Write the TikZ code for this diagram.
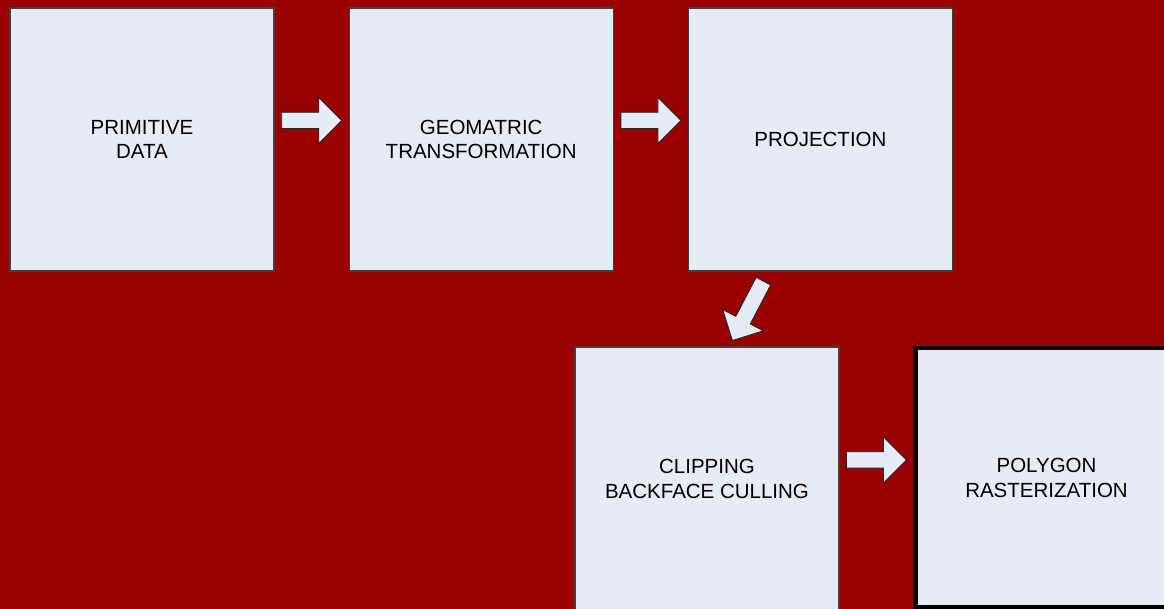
\documentclass[tikz,border=0pt]{standalone}
\usepackage{fontspec}
\setmainfont{Liberation Sans}
\usepackage{tikz}
\usetikzlibrary{positioning, shapes.arrows, calc}

\definecolor{bgred}{RGB}{153,0,0}
\definecolor{boxfill}{RGB}{230,236,246}

\tikzset{
  stage/.style={rectangle, draw=black!75, line width=1.2pt, fill=boxfill,
    minimum width=264pt, minimum height=263pt, align=center,
    font=\fontsize{20.5}{24.6}\selectfont},
  blockarrow/.style={single arrow, draw=black!85, line width=0.9pt, fill=boxfill,
    single arrow head extend=14.75pt, single arrow head indent=0pt,
    minimum height=60pt, inner sep=0pt, inner ysep=7.75pt}
}

\begin{document}
\begin{tikzpicture}[x=1pt, y=1pt]

    \useasboundingbox (0,0) rectangle (1164,609);
    \clip (0,0) rectangle (1164,609);
    \fill[bgred] (0,0) rectangle (1164,609);

    \node[stage] (prim) at (142,469.5) {PRIMITIVE\\DATA};

    \node[stage,
      right=74pt of prim] (geo) {GEOMATRIC\\TRANSFORMATION};

    \node[stage,
      right=74pt of geo] (proj) {PROJECTION};

    \node[stage,
      minimum height=264pt] (cull) at (707,130) {CLIPPING\\BACKFACE CULLING};

    \node[stage,
      draw=black,
      line width=4.5pt,
      minimum width=262.5pt,
      minimum height=259.5pt,
      right=73.4pt of cull,
      yshift=1pt] (poly) {POLYGON\\RASTERIZATION};

    \node[blockarrow] (a1) at ($(prim.east)!0.5!(geo.west)+(-4,19)$) {};
    \node[blockarrow] (a2) at ($(geo.east)!0.5!(proj.west)+(-4,19)$) {};
    \node[blockarrow,
      minimum height=67pt,
      rotate=-117.6] (a3) at ($(proj.south)!0.5!(cull.north)+(-13.9,1.8)$) {};
    \node[blockarrow] (a4) at ($(cull.east)!0.5!(poly.west)+(-4,18.5)$) {};

\end{tikzpicture}
\end{document}
